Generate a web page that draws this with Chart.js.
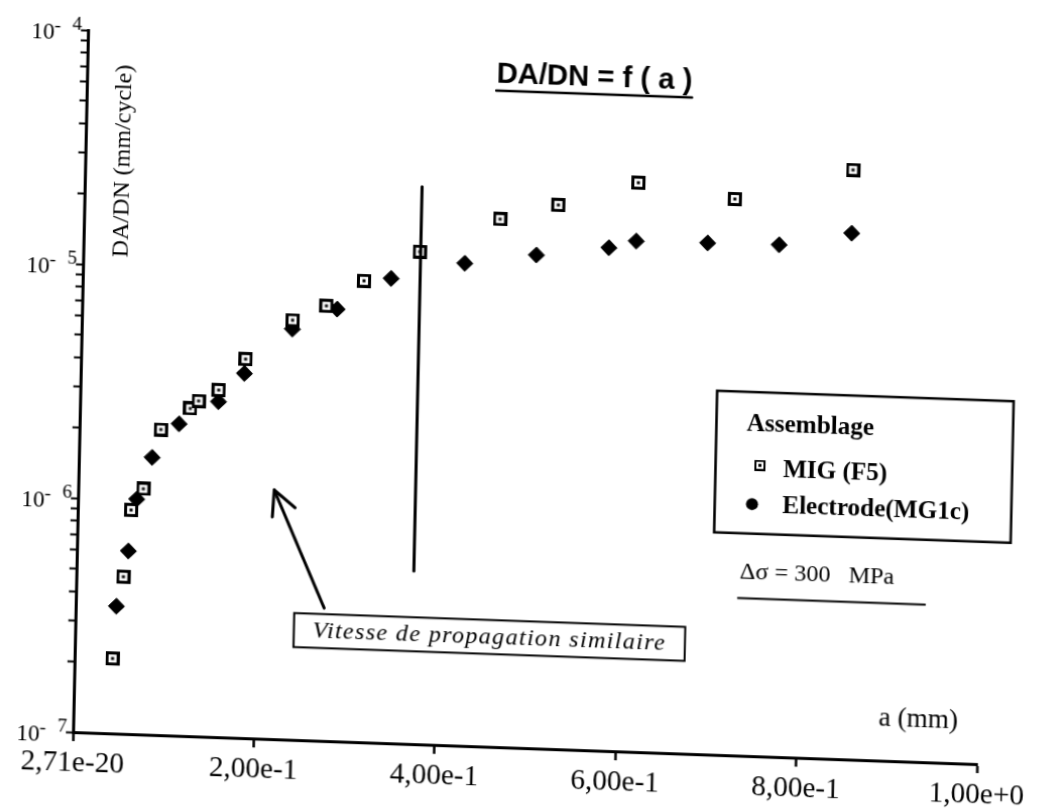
<!DOCTYPE html>
<html>
<head>
<meta charset="utf-8">
<script src="https://cdn.jsdelivr.net/npm/chart.js@4.4.1/dist/chart.umd.min.js"></script>
<style>
  html, body { margin: 0; padding: 0; background: #fff; overflow: hidden; width: 1037px; height: 809px; }
  #wrap { position: absolute; left: 0; top: 0; width: 1037px; height: 809px;
          transform-origin: 0 0; transform: matrix(1.0078, 0.0357, -0.0214, 1, 8.2, -12.8); }
  canvas { display: block; }
</style>
</head>
<body>
<div id="wrap"><canvas id="c" width="1037" height="809"></canvas></div>
<script>
// ---- data (crack length a in mm, da/dN in mm/cycle) ----
const migA  = [0.042, 0.052, 0.059, 0.072, 0.090, 0.122, 0.131, 0.153, 0.182, 0.233, 0.270, 0.311, 0.372, 0.460, 0.524, 0.612, 0.719, 0.849];
const migV  = [2.09e-7, 4.69e-7, 9.06e-7, 1.12e-6, 2.02e-6, 2.51e-6, 2.71e-6, 3.04e-6, 4.16e-6, 6.20e-6, 7.22e-6, 9.36e-6, 1.27e-5, 1.80e-5, 2.11e-5, 2.70e-5, 2.38e-5, 3.30e-5];
const elecA = [0.045, 0.057, 0.065, 0.081, 0.110, 0.153, 0.181, 0.233, 0.282, 0.341, 0.422, 0.501, 0.581, 0.611, 0.690, 0.769, 0.849];
const elecV = [3.50e-7, 6.05e-7, 1.01e-6, 1.53e-6, 2.15e-6, 2.71e-6, 3.61e-6, 5.68e-6, 7.02e-6, 9.67e-6, 1.15e-5, 1.28e-5, 1.41e-5, 1.52e-5, 1.53e-5, 1.54e-5, 1.77e-5];

const seriesNames = ['MIG (F5)', 'Electrode(MG1c)'];
const xTickValues = [0, 0.2, 0.4, 0.6, 0.8, 1.0];
const xTickLabels = ['2,71e-20', '2,00e-1', '4,00e-1', '6,00e-1', '8,00e-1', '1,00e+0'];
const yDecades    = [-7, -6, -5, -4];
const yTickBase   = '10';
const yTickExp    = ['7', '6', '5', '4'];
const yMinorMult  = [1, 2, 3, 4, 5, 6, 7, 8, 9];

const titleText   = 'DA/DN = f ( a )';
const yTitleText  = 'DA/DN (mm/cycle)';
const xTitleText  = 'a (mm)';
const noteText    = 'Vitesse de propagation similaire';
const legendTitle = 'Assemblage';
const stressText  = '\u0394\u03C3 = 300   MPa';

const SERIF = '"Liberation Serif", "Times New Roman", serif';
const SANS  = '"Liberation Sans", Arial, sans-serif';

// marker images (styles)
function squareDot(size, border, dot) {
  const c = document.createElement('canvas');
  c.width = size; c.height = size;
  const g = c.getContext('2d');
  g.fillStyle = '#000'; g.fillRect(0, 0, size, size);
  g.fillStyle = '#fff'; g.fillRect(border, border, size - 2 * border, size - 2 * border);
  g.fillStyle = '#000';
  const d0 = (size - dot) / 2;
  g.fillRect(d0, d0, dot, dot);
  return c;
}
const migMarker = squareDot(14, 3, 3);
const legendSquare = squareDot(11, 2, 3);

const annotations = {
  id: 'annotations',
  afterDraw(chart) {
    const ctx = chart.ctx, xs = chart.scales.x, ys = chart.scales.y;
    const X = a => xs.getPixelForValue(a);
    const Y = L => ys.getPixelForValue(Math.pow(10, L));
    const line = (x1, y1, x2, y2) => { ctx.beginPath(); ctx.moveTo(x1, y1); ctx.lineTo(x2, y2); ctx.stroke(); };
    ctx.save();
    ctx.fillStyle = '#000'; ctx.strokeStyle = '#000'; ctx.lineCap = 'round';

    // y tick labels: 10 with raised exponent
    const axisX = chart.chartArea.left;
    yDecades.forEach((e, i) => {
      const y = ys.getPixelForValue(Math.pow(10, e));
      ctx.textBaseline = 'middle';
      ctx.textAlign = 'right';
      ctx.font = '23px ' + SERIF;
      ctx.fillText(yTickBase, axisX - 33, y + 4);
      ctx.font = '19px ' + SERIF;
      ctx.textAlign = 'center';
      ctx.fillText('-', axisX - 30, y - 3);
      ctx.textAlign = 'right';
      ctx.fillText(yTickExp[i], axisX - 6, y - 5);
    });

    // title, underlined
    ctx.font = 'bold 29px ' + SANS;
    ctx.textAlign = 'center'; ctx.textBaseline = 'middle';
    const tx = X(0.561), ty = Y(-4.128);
    ctx.fillText(titleText, tx, ty);
    const tw = ctx.measureText(titleText).width;
    ctx.lineWidth = 2.5;
    line(tx - tw / 2, ty + 16, tx + tw / 2, ty + 16);

    // y axis title (inside plot)
    ctx.save();
    ctx.translate(X(0.0416), Y(-4.554));
    ctx.rotate(-Math.PI / 2);
    ctx.font = '24px ' + SERIF;
    ctx.fillText(yTitleText, 0, 0);
    ctx.restore();

    // x axis title
    ctx.font = '27px ' + SERIF;
    ctx.textAlign = 'center';
    ctx.fillText(xTitleText, X(0.934), Y(-6.821));

    // vertical separator line
    ctx.lineWidth = 3;
    line(X(0.373), Y(-4.6185), X(0.373), Y(-6.261));

    // arrow
    const ax1 = X(0.2747), ay1 = Y(-6.432), ax2 = X(0.2168), ay2 = Y(-5.936);
    line(ax1, ay1, ax2, ay2);
    const back = Math.atan2(ay1 - ay2, ax1 - ax2);
    const hl = 27, spread = 27 * Math.PI / 180;
    line(ax2, ay2, ax2 + hl * Math.cos(back + spread), ay2 + hl * Math.sin(back + spread));
    line(ax2, ay2, ax2 + hl * Math.cos(back - spread), ay2 + hl * Math.sin(back - spread));

    // note box
    const nx = X(0.458), ny = Y(-6.531);
    ctx.font = 'italic 24px ' + SERIF;
    if ('letterSpacing' in ctx) ctx.letterSpacing = '1.3px';
    ctx.fillText(noteText, nx, ny);
    if ('letterSpacing' in ctx) ctx.letterSpacing = '0px';
    ctx.lineWidth = 2;
    ctx.lineCap = 'butt';
    ctx.strokeRect(nx - 194, ny - 17, 388, 34);

    // legend box
    const lx1 = X(0.704), ly1 = Y(-5.445), lx2 = X(1.032), ly2 = Y(-6.05);
    ctx.lineWidth = 2.5;
    ctx.strokeRect(lx1, ly1, lx2 - lx1, ly2 - ly1);
    ctx.textAlign = 'left';
    ctx.font = 'bold 25px ' + SERIF;
    ctx.fillText(legendTitle, lx1 + 30, ly1 + 32);
    ctx.drawImage(legendSquare, lx1 + 44 - 5.5, ly1 + 73 - 5.5, 11, 11);
    ctx.fillText(seriesNames[0], lx1 + 67, ly1 + 77);
    ctx.beginPath(); ctx.arc(lx1 + 37, ly1 + 112, 6, 0, Math.PI * 2); ctx.fill();
    ctx.fillText(seriesNames[1], lx1 + 67, ly1 + 113);

    // stress range note
    const sx = X(0.7333), sy = Y(-6.216);
    ctx.font = '24px ' + SERIF;
    ctx.fillText(stressText, sx, sy);
    ctx.lineWidth = 2;
    line(sx - 2, sy + 26, sx + 185, sy + 26);

    ctx.restore();
  }
};

new Chart(document.getElementById('c'), {
  type: 'scatter',
  data: {
    datasets: [
      {
        label: seriesNames[0],
        data: migA.map((a, i) => ({ x: a, y: migV[i] })),
        pointStyle: migMarker,
        pointRadius: 7,
        showLine: false
      },
      {
        label: seriesNames[1],
        data: elecA.map((a, i) => ({ x: a, y: elecV[i] })),
        pointStyle: 'rectRot',
        pointRadius: 8,
        backgroundColor: '#000',
        borderColor: '#000',
        borderWidth: 1,
        showLine: false
      }
    ]
  },
  options: {
    responsive: false,
    devicePixelRatio: 1,
    animation: false,
    events: [],
    layout: { padding: { top: 40, right: 60, left: 0, bottom: 0 } },
    plugins: { legend: { display: false }, tooltip: { enabled: false } },
    scales: {
      x: {
        type: 'linear',
        position: 'bottom',
        min: 0, max: 1,
        afterBuildTicks: s => { s.ticks = xTickValues.map(v => ({ value: v })); },
        afterFit: s => { s.height = 67; },
        ticks: {
          autoSkip: false, maxRotation: 0, minRotation: 0,
          padding: 5, color: '#000',
          font: { family: 'Liberation Serif', size: 29 },
          callback: (v, i) => xTickLabels[i]
        },
        grid: { drawOnChartArea: false, drawTicks: true, tickLength: 9, tickWidth: 2.5, color: '#000' },
        border: { display: true, width: 3, color: '#000' }
      },
      y: {
        type: 'logarithmic',
        position: 'left',
        min: 1e-7, max: 1e-4,
        afterBuildTicks: s => {
          const t = [];
          yDecades.forEach((e, i) => {
            if (i < yDecades.length - 1) yMinorMult.forEach(m => t.push({ value: m * Math.pow(10, e) }));
            else t.push({ value: Math.pow(10, e) });
          });
          s.ticks = t;
        },
        afterFit: s => { s.width = 80; },
        ticks: {
          autoSkip: false, padding: 1, color: '#000',
          font: { family: 'Liberation Serif', size: 20 },
          callback: () => ''
        },
        grid: { drawOnChartArea: false, drawTicks: true, tickLength: 7, tickWidth: 2, color: '#000' },
        border: { display: true, width: 3, color: '#000' }
      }
    }
  },
  plugins: [annotations]
});
</script>
</body>
</html>
